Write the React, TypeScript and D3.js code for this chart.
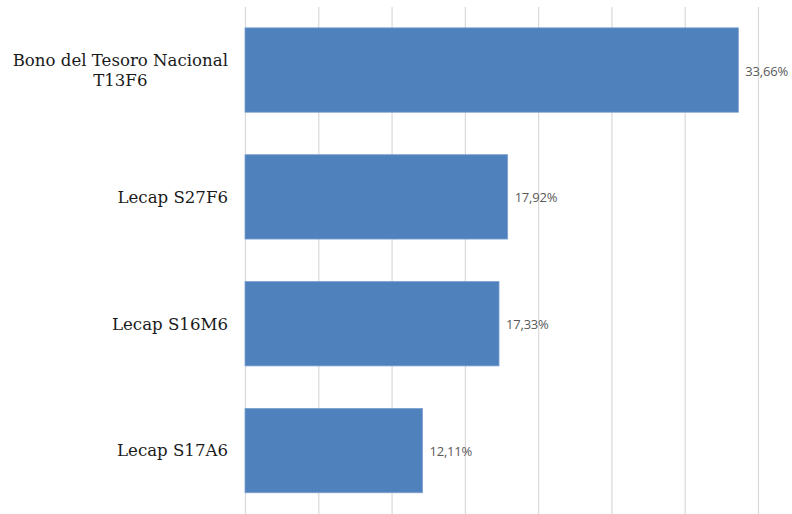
import React, { useEffect, useRef } from 'react';
import * as d3 from 'd3';

const categories = ['Bono del Tesoro Nacional|T13F6', 'Lecap S27F6', 'Lecap S16M6', 'Lecap S17A6'];
const values = [33.66, 17.92, 17.33, 12.11];
const valueLabels = ['33,66%', '17,92%', '17,33%', '12,11%'];
const gridTicks = [0, 5, 10, 15, 20, 25, 30, 35];

const W = 792;
const H = 514;

export default function App() {
  const ref = useRef<SVGSVGElement>(null);

  useEffect(() => {
    const svg = d3.select(ref.current);
    svg.selectAll('*').remove();

    const x = d3.scaleLinear().domain([0, 35]).range([245, 758]);
    const y = d3.scaleBand<number>()
      .domain(d3.range(categories.length))
      .range([6.6, 514])
      .paddingInner(0.335)
      .paddingOuter(0.1675);

    // gridlines
    svg.append('g')
      .selectAll('line')
      .data(gridTicks)
      .enter()
      .append('line')
      .attr('x1', (d) => x(d) + 0.5)
      .attr('x2', (d) => x(d) + 0.5)
      .attr('y1', 7)
      .attr('y2', H)
      .attr('stroke', '#d9d9d9')
      .attr('stroke-width', 1.2);

    // bars
    svg.append('g')
      .selectAll('rect')
      .data(values)
      .enter()
      .append('rect')
      .attr('x', x(0))
      .attr('y', (d, i) => y(i)!)
      .attr('width', (d) => x(d) - x(0))
      .attr('height', y.bandwidth())
      .attr('fill', '#4f81bd')
      .attr('stroke', '#7da0d0')
      .attr('stroke-width', 0.8);

    // value labels
    svg.append('g')
      .selectAll('text')
      .data(values)
      .enter()
      .append('text')
      .attr('x', (d) => x(d) + 7)
      .attr('y', (d, i) => y(i)! + y.bandwidth() / 2 + 1)
      .attr('dy', '0.35em')
      .attr('font-family', 'Open Sans, sans-serif')
      .attr('font-size', 13)
      .attr('letter-spacing', -0.2)
      .attr('fill', '#595959')
      .text((d, i) => valueLabels[i]);

    // category labels, wrapped lines centered in a block right-aligned to the axis
    const labelRight = 228;
    const lh = 20;
    categories.forEach((c, i) => {
      const lines = c.split('|');
      const g = svg.append('g');
      const cy = y(i)! + y.bandwidth() / 2;
      const texts = lines.map((ln, j) =>
        g.append('text')
          .attr('y', cy + (j - (lines.length - 1) / 2) * lh)
          .attr('dy', '0.35em')
          .attr('text-anchor', 'middle')
          .attr('font-family', 'DejaVu Serif, serif')
          .attr('font-size', 16.6)
          .attr('fill', '#1a1a1a')
          .text(ln)
      );
      const maxW = d3.max(texts, (t) => (t.node() as SVGTextElement).getComputedTextLength()) || 0;
      texts.forEach((t) => t.attr('x', labelRight - maxW / 2));
    });
  }, []);

  return (
    <svg
      ref={ref}
      width={W}
      height={H}
      style={{ position: 'absolute', left: 0, top: 0, background: '#fff' }}
    />
  );
}
